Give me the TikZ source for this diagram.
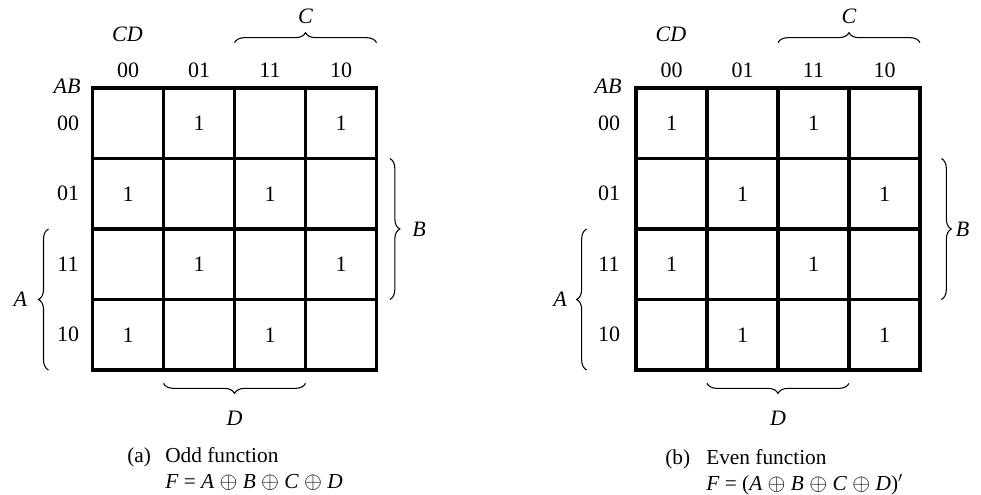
\documentclass[tikz,border=0pt]{standalone}
\usepackage{fontspec}
\setmainfont{Liberation Serif}
\usetikzlibrary{decorations.pathreplacing}
\tikzset{
	kcell/.style={draw, line width=2.4pt, minimum width=53.25pt, minimum height=52.9pt, inner sep=0pt, outer sep=0pt},
	klabel/.style={font=\fontsize{16.5}{19}\selectfont},
	kcaption/.style={font=\fontsize{16}{18}\selectfont, anchor=base west, inner sep=0pt, text height=11.5pt, text depth=3.5pt},
	kbrace/.style={decorate, decoration={brace, amplitude=7.5pt}, line width=0.8pt},
}
% #1 map name, #2 left edge of grid, #3 row label x
\newcommand{\kmap}[3]{%
	\foreach \code [count=\i from 0] in {00,01,11,10} {
		\foreach \j in {0,...,3} {
			\node[kcell] (#1-\i-\j) at (#2+35.5+\j*71, 123.25+\i*70.5) {};
		}
		\node[klabel] (#1-row\i) at (#3, 123.25+\i*70.5) {\code};
		\node[klabel] (#1-col\i) at (#2+35.5+\i*71, 70) {\code};
	}
	\node[klabel] (#1-CD) at (#2+35, 34) {\textit{CD}};
	\node[klabel] (#1-AB) at (#3-1, 86) {\textit{AB}};
}

\begin{document}
\begin{tikzpicture}[x=0.75pt,y=-0.75pt]
	\useasboundingbox[fill=white] (0,0) rectangle (981,494);

	% (a) odd function
	\kmap{L}{92.5}{68}
	\foreach \r/\c in {0/1,0/3,1/0,1/2,2/1,2/3,3/0,3/2} {
		\node[klabel] (L-one-\r-\c) at (L-\r-\c) {1};
	}
	\draw[kbrace] ([yshift=34pt]L-0-2.north west) -- ([yshift=34pt]L-0-3.north east) node[klabel, midway, yshift=20pt] (L-C) {\textit{C}};
	\draw[kbrace] ([xshift=10pt]L-1-3.north east) -- ([xshift=10pt]L-2-3.south east) node[klabel, midway, xshift=22pt] (L-B) {\textit{B}};
	\draw[kbrace] ([xshift=-33pt]L-3-0.south west) -- ([xshift=-33pt]L-2-0.north west) node[klabel, midway, xshift=-21pt] (L-A) {\textit{A}};
	\draw[kbrace] ([yshift=-10pt]L-3-2.south east) -- ([yshift=-10pt]L-3-1.south west) node[klabel, midway, yshift=-26pt] (L-D) {\textit{D}};
	\node[kcaption] (L-tag) at (127,462) {(a)};
	\node[kcaption] (L-name) at (165,462) {Odd function};
	\node[kcaption, yshift=-20pt] (L-fun) at (L-name.base west) {\textit{F} = \textit{A} $\oplus$ \textit{B} $\oplus$ \textit{C} $\oplus$ \textit{D}};

	% (b) even function
	\kmap{R}{636}{609}
	\foreach \r/\c in {0/0,0/2,1/1,1/3,2/0,2/2,3/1,3/3} {
		\node[klabel] (R-one-\r-\c) at (R-\r-\c) {1};
	}
	\draw[kbrace] ([yshift=34pt]R-0-2.north west) -- ([yshift=34pt]R-0-3.north east) node[klabel, midway, yshift=20pt] (R-C) {\textit{C}};
	\draw[kbrace] ([xshift=16pt]R-1-3.north east) -- ([xshift=16pt]R-2-3.south east) node[klabel, midway, xshift=16pt] (R-B) {\textit{B}};
	\draw[kbrace] ([xshift=-37pt]R-3-0.south west) -- ([xshift=-37pt]R-2-0.north west) node[klabel, midway, xshift=-20pt] (R-A) {\textit{A}};
	\draw[kbrace] ([yshift=-10pt]R-3-2.south east) -- ([yshift=-10pt]R-3-1.south west) node[klabel, midway, yshift=-26pt] (R-D) {\textit{D}};
	\node[kcaption] (R-tag) at (665,464) {(b)};
	\node[kcaption] (R-name) at (706,464) {Even function};
	\node[kcaption, yshift=-20pt] (R-fun) at (R-name.base west) {\textit{F} = (\textit{A} $\oplus$ \textit{B} $\oplus$ \textit{C} $\oplus$ \textit{D})$'$};
\end{tikzpicture}
\end{document}
